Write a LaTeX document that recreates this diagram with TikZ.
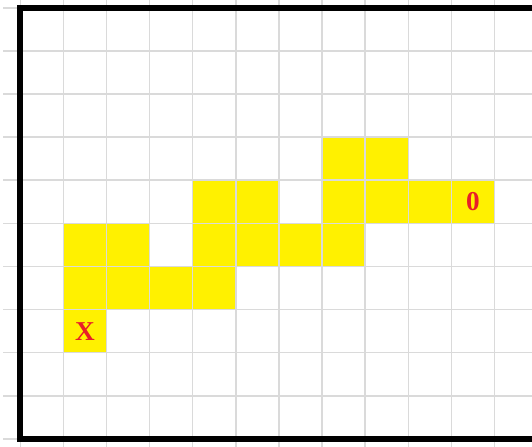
\documentclass[tikz,border=0pt]{standalone}
\usepackage{fontspec}
\setmainfont{Liberation Serif}
\definecolor{cellyellow}{RGB}{255,241,0}
\definecolor{gridgray}{RGB}{218,218,218}
\definecolor{tagred}{RGB}{232,30,40}

\begin{document}
\begin{tikzpicture}[x=1cm, y=1cm,
  cell/.style={fill=cellyellow},
  gridline/.style={draw=gridgray, line width=1pt},
  frame/.style={draw=black, line width=4pt, line join=miter},
  tag/.style={text=tagred, font=\fontsize{18}{18}\selectfont\bfseries}]
  \useasboundingbox (-0.47,-0.18) rectangle (11.87,10.18);
  % yellow cells (lower left corners)
  \foreach \cx/\cy in {7/6, 8/6, 4/5, 5/5, 7/5, 8/5, 9/5, 10/5,
                       1/4, 2/4, 4/4, 5/4, 6/4, 7/4,
                       1/3, 2/3, 3/3, 4/3, 1/2}
    \fill[cell] (\cx,\cy) rectangle ++(1,1);
  \draw[gridline] (-0.4,-0.18) grid (11.87,10.18);
  \draw[frame] (12,10) -- (0,10) -- (0,0) -- (12,0);
  \node[tag] (start) at (1.5,2.5) {X};
  \node[tag] (goal) at (10.5,5.5) {0};
\end{tikzpicture}
\end{document}
